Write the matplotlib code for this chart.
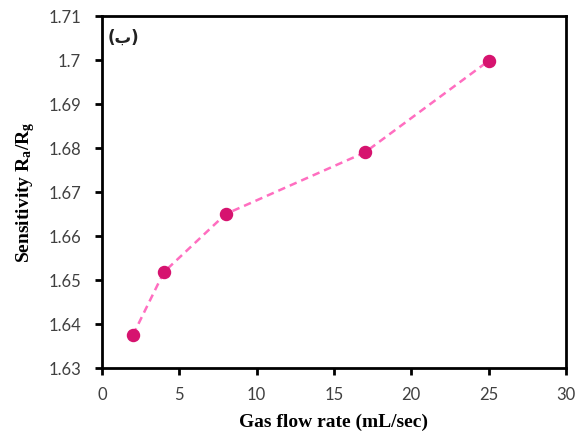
import matplotlib
matplotlib.use("Agg")
import matplotlib.pyplot as plt

plt.rcParams["mathtext.fontset"] = "custom"
plt.rcParams["mathtext.rm"] = "Liberation Serif"
plt.rcParams["mathtext.bf"] = "Liberation Serif:bold"
plt.rcParams["mathtext.it"] = "Liberation Serif:italic"

flow = [2, 4, 8, 17, 25]
sens = [1.6375, 1.6518, 1.665, 1.679, 1.6998]
xticks = [0, 5, 10, 15, 20, 25, 30]
yticks = [1.63, 1.64, 1.65, 1.66, 1.67, 1.68, 1.69, 1.70, 1.71]
ylabels = ["1.63", "1.64", "1.65", "1.66", "1.67", "1.68", "1.69", "1.7", "1.71"]

fig = plt.figure(figsize=(5.78, 4.33), dpi=100)
ax = fig.add_axes([0.1765, 0.150, 0.8025, 0.813])
ax.plot(flow, sens, linestyle=(0, (3, 2)), color="#FF6EC0", linewidth=1.8, zorder=2)
ax.scatter(flow, sens, s=75, color="#D6136F", zorder=3)
ax.set_xlim(0, 30)
ax.set_ylim(1.63, 1.71)
ax.set_xticks(xticks)
ax.set_xticklabels([str(t) for t in xticks])
ax.set_yticks(yticks)
ax.set_yticklabels(ylabels)
for lab in ax.get_xticklabels() + ax.get_yticklabels():
    lab.set_family("Lato")
for s in ax.spines.values():
    s.set_linewidth(2)
    s.set_color("black")
ax.tick_params(axis="both", direction="out", length=5, width=2, labelsize=12, labelcolor="#404040", pad=9)
ax.tick_params(axis="y", pad=10)
ax.set_xlabel("Gas flow rate (mL/sec)", family="Liberation Serif", fontweight="bold", fontsize=14, labelpad=7)
ax.set_ylabel(r"Sensitivity R$_\mathbf{a}$/R$_\mathbf{g}$", family="Liberation Serif", fontweight="bold", fontsize=14, labelpad=8)
ax.text(0.012, 0.965, "(ب)", transform=ax.transAxes, fontsize=12, fontweight="bold", color="#222222", va="top", ha="left", family=["DejaVu Sans"])
fig.savefig("out.png", dpi=100)
